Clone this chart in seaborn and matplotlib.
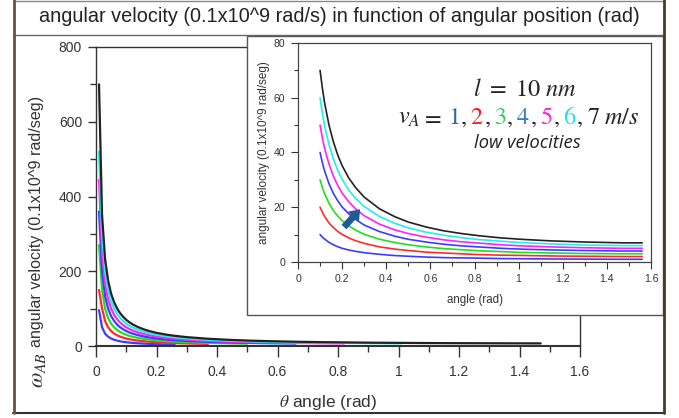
import matplotlib
matplotlib.use('Agg')
import matplotlib.pyplot as plt
import seaborn as sns
from matplotlib.lines import Line2D
from matplotlib.patches import Rectangle
from matplotlib.ticker import MultipleLocator

# angle samples (rad) and angular velocity (0.1x10^9 rad/s)
theta = [0.01, 0.02, 0.03, 0.04, 0.05, 0.06, 0.07, 0.08, 0.09, 0.10, 0.11, 0.12,
         0.14, 0.16, 0.18, 0.20, 0.23, 0.26, 0.30, 0.37, 0.44, 0.50, 0.58, 0.66,
         0.74, 0.82, 0.92, 1.01, 1.15, 1.30, 1.47, 1.56]
w_v1 = [96, 50, 33, 25, 20, 16.7, 14.3, 12.5, 11.1, 10, 9.1, 8.4, 7.2, 6.3, 5.6, 5.0,
        4.4, 3.9, 3.4, 2.8, 2.35, 2.1, 1.8, 1.6, 1.5, 1.4, 1.25, 1.2, 1.1, 1.05, 1.0, 1.0]
w_v2 = [150, 100, 67, 50, 40, 33, 28.6, 25, 22.3, 20, 18.2, 16.7, 14.3, 12.6, 11.2, 10.1,
        8.8, 7.8, 6.8, 5.5, 4.7, 4.2, 3.6, 3.3, 3.0, 2.7, 2.5, 2.4, 2.2, 2.1, 2.0, 2.0]
w_v3 = [270, 150, 100, 75, 60, 50, 43, 37.5, 33.4, 30, 27.3, 25, 21.5, 18.8, 16.8, 15.1,
        13.2, 11.7, 10.1, 8.3, 7.1, 6.3, 5.5, 4.9, 4.5, 4.1, 3.8, 3.5, 3.3, 3.1, 3.0, 3.0]
w_v4 = [360, 200, 133, 100, 80, 67, 57, 50, 44.5, 40, 36.4, 33.4, 28.7, 25.1, 22.4, 20.1,
        17.6, 15.6, 13.5, 11.1, 9.4, 8.3, 7.3, 6.5, 5.9, 5.5, 5.0, 4.7, 4.4, 4.2, 4.0, 4.0]
w_v5 = [445, 250, 167, 125, 100, 83, 71.5, 62.5, 55.6, 50, 45.5, 41.7, 35.9, 31.4, 28, 25.2,
        22, 19.5, 16.9, 13.8, 11.7, 10.4, 9.1, 8.1, 7.4, 6.9, 6.3, 5.9, 5.5, 5.2, 5.0, 5.0]
w_v6 = [520, 300, 200, 150, 120, 100, 86, 75, 66.8, 60, 54.6, 50, 43, 37.7, 33.5, 30.2,
        26.3, 23.3, 20.3, 16.6, 14.1, 12.5, 10.9, 9.8, 8.9, 8.2, 7.6, 7.1, 6.6, 6.2, 6.0, 6.0]
w_v7 = [700, 350, 233, 175, 140, 117, 100, 87.5, 78, 70, 63.8, 58.4, 50.2, 44, 39.1, 35.2,
        30.7, 27.3, 23.7, 19.4, 16.5, 14.6, 12.8, 11.4, 10.4, 9.6, 8.8, 8.3, 7.7, 7.3, 7.0, 7.0]

curves = [w_v1, w_v2, w_v3, w_v4, w_v5, w_v6, w_v7]
colors = ['#3c3cff', '#ff2a2a', '#22dd22', '#3c3cff', '#ff22ff', '#22eeee', '#222222']
main_end = [0.26, 0.37, 0.50, 0.66, 0.82, 1.01, 1.47]   # where each curve stops in the big plot
inset_start = 0.10

speeds = ['1', '2', '3', '4', '5', '6', '7']
speed_colors = ['#2e6aa8', '#ff1a1a', '#33cc55', '#3a7ec8', '#ff22dd', '#22e0f0', '#222222']

sns.set_style('ticks')
plt.rcParams['font.family'] = ['Liberation Sans', 'DejaVu Sans']
plt.rcParams['mathtext.fontset'] = 'stix'

W, H = 679, 418
fig = plt.figure(figsize=(W / 100, H / 100), dpi=100)


def rect(x0, y0, x1, y1):
    return [x0 / W, 1 - y1 / H, (x1 - x0) / W, (y1 - y0) / H]


def hline(x0, x1, y, c, lw):
    fig.add_artist(Line2D([x0 / W, x1 / W], [1 - y / H, 1 - y / H], color=c, lw=lw))


def vline(x, y0, y1, c, lw):
    fig.add_artist(Line2D([x / W, x / W], [1 - y0 / H, 1 - y1 / H], color=c, lw=lw))


# outer frame and title strip
hline(13, 665, 1, '#888888', 1)
hline(13, 665, 35, '#666666', 1)
hline(13, 665, 413, '#333333', 1.5)
vline(14, 0, 413, '#6b5238', 2)
vline(664, 0, 413, '#4a3a2a', 2)
fig.text(339 / W, 1 - 17 / H, 'angular velocity (0.1x10^9 rad/s) in function of angular position (rad)',
         ha='center', va='center', fontsize=14.3, color='#222222')

# main plot
ax = fig.add_axes(rect(96, 47, 580, 346))
for w, c, end in zip(curves, colors, main_end):
    xs = [t for t in theta if t <= end]
    sns.lineplot(x=xs, y=w[:len(xs)], color=c, lw=1.6, ax=ax, sort=False, estimator=None)
ax.set_xlim(0, 1.6)
ax.set_ylim(0, 800)
ax.set_xticks([0, 0.2, 0.4, 0.6, 0.8, 1.0, 1.2, 1.4, 1.6])
ax.set_xticklabels(['0', '0.2', '0.4', '0.6', '0.8', '1', '1.2', '1.4', '1.6'])
ax.set_yticks([0, 200, 400, 600, 800])
ax.xaxis.set_minor_locator(MultipleLocator(0.1))
ax.yaxis.set_minor_locator(MultipleLocator(100))
ax.tick_params(axis='x', which='major', length=8, width=1, pad=6, labelsize=10, colors='#333333')
ax.tick_params(axis='x', which='minor', length=4, width=1, colors='#333333')
ax.tick_params(axis='y', which='major', length=6, width=1, pad=4, labelsize=10, colors='#333333')
ax.tick_params(axis='y', which='minor', length=4, width=1, colors='#333333')
for s in ax.spines.values():
    s.set_color('#333333')
    s.set_linewidth(1)
ax.spines['bottom'].set_linewidth(1.5)
ax.set_xlabel('')
ax.set_ylabel('')

fig.text(328 / W, 1 - 403 / H, r'$\theta$ angle (rad)', ha='center', va='center',
         fontsize=12.5, color='#333333')
fig.text(37 / W, 1 - 370 / H, r'$\omega_{AB}$', ha='center', va='center', rotation=90,
         fontsize=16, color='#333333')
fig.text(37 / W, 1 - 347 / H, 'angular velocity (0.1x10^9 rad/seg)',
         ha='center', va='bottom', rotation=90, fontsize=11.6, color='#333333')

# inset frame
fig.add_artist(Rectangle((247 / W, 1 - 315 / H), (663 - 247) / W, (315 - 36) / H,
                         transform=fig.transFigure, facecolor='white', edgecolor='#555555',
                         lw=1, zorder=1))

axi = fig.add_axes(rect(298, 43, 651, 262), zorder=2)
for w, c in zip(curves, colors):
    k = theta.index(inset_start)
    sns.lineplot(x=theta[k:], y=w[k:], color=c, lw=1.2, ax=axi, sort=False, estimator=None)
axi.set_xlim(0, 1.6)
axi.set_ylim(0, 80)
axi.set_xticks([0, 0.2, 0.4, 0.6, 0.8, 1.0, 1.2, 1.4, 1.6])
axi.set_xticklabels(['0', '0.2', '0.4', '0.6', '0.8', '1', '1.2', '1.4', '1.6'])
axi.set_yticks([0, 20, 40, 60, 80])
axi.xaxis.set_minor_locator(MultipleLocator(0.1))
axi.yaxis.set_minor_locator(MultipleLocator(10))
axi.tick_params(which='major', length=5, width=0.8, pad=4, labelsize=7.5, colors='#333333')
axi.tick_params(which='minor', length=3, width=0.8, colors='#333333')
for s in axi.spines.values():
    s.set_color('#444444')
    s.set_linewidth(0.9)
axi.set_xlabel('')
axi.set_ylabel('')

fig.text(475 / W, 1 - 300 / H, 'angle (rad)', ha='center', va='center', fontsize=8.3, color='#333333')
fig.text(264 / W, 1 - 153 / H, 'angular velocity (0.1x10^9 rad/seg)', ha='center', va='center',
         rotation=90, fontsize=8.5, color='#333333', zorder=3)

axi.annotate('', xy=(0.29, 20), xytext=(0.2, 12),
             arrowprops=dict(arrowstyle='simple,head_width=0.9,head_length=0.6,tail_width=0.4',
                             color='#1f5a96', mutation_scale=12, lw=0))

# annotation text
fig.text(525 / W, 1 - 96 / H, r'$l\ =\ 10\ nm$', ha='center', va='baseline', fontsize=17.5, zorder=3)
renderer = fig.canvas.get_renderer()
parts = [(r'$v_A$', '#222222', 1), (r'$=$', '#222222', 6)]
for i, (s, c) in enumerate(zip(speeds, speed_colors)):
    parts.append(('$' + s + '$', c, 0))
    if i < len(speeds) - 1:
        parts.append((r'$,$', '#222222', 3.5))
parts.append((r'$m/s$', '#222222', 0))
x = 398
for s, c, gap in parts:
    if s == r'$m/s$':
        x += 5
    t = fig.text(x / W, 1 - 124 / H, s, ha='left', va='baseline', fontsize=17.5, color=c, zorder=3)
    x += t.get_window_extent(renderer).width + gap
fig.text(527 / W, 1 - 143 / H, 'low velocities', ha='center', va='center', fontsize=13.3,
         style='italic', family=['Open Sans', 'DejaVu Sans'], color='#222222', zorder=3)

fig.savefig('out.png', dpi=100)
